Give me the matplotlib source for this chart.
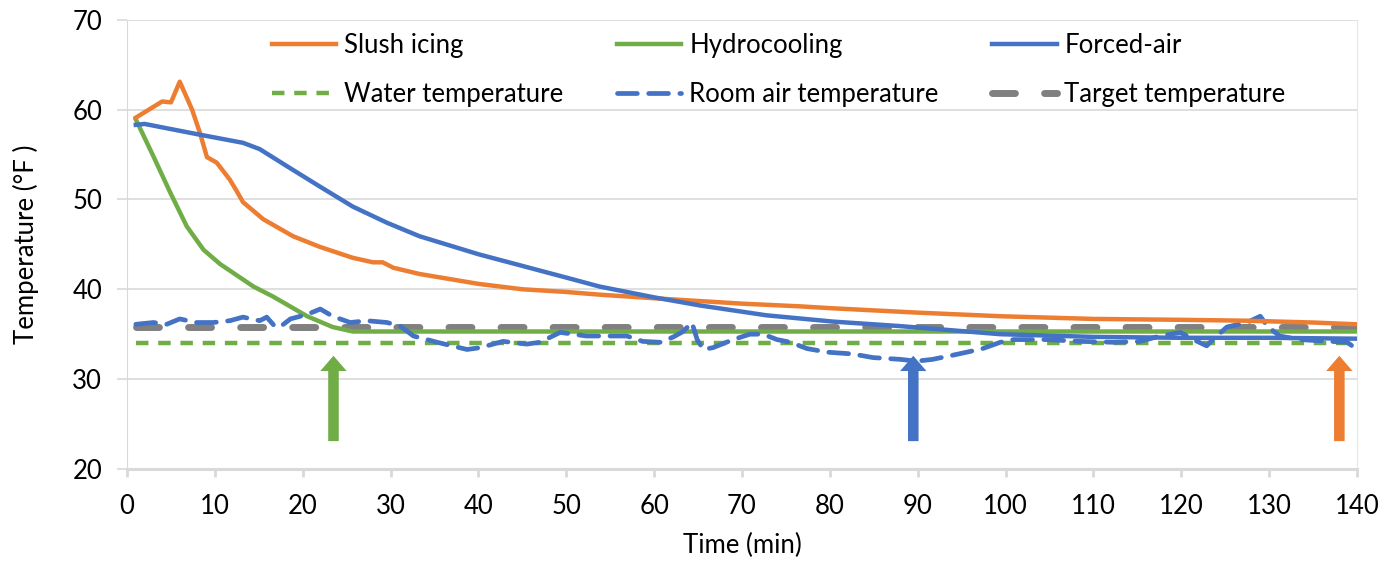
import numpy as np
import matplotlib.pyplot as plt

# Values
slush_t = [1, 2, 4, 5, 6, 7.4, 8.3, 9.1, 10.2, 11.7, 12.5, 13.2, 15.5, 18.9, 22, 25.7,
           28, 29.1, 30.3, 33.3, 40, 45, 50, 53.8, 60, 65, 70, 76.6, 80, 90, 99.4,
           110, 120, 127.5, 135, 140]
slush = [59.1, 59.7, 60.9, 60.8, 63.1, 60.0, 57.4, 54.7, 54.1, 52.2, 50.9, 49.7, 47.8,
         45.9, 44.7, 43.5, 43.0, 43.0, 42.4, 41.7, 40.6, 40.0, 39.7, 39.4, 39.0, 38.7,
         38.4, 38.1, 37.9, 37.4, 37.0, 36.7, 36.6, 36.5, 36.3, 36.1]

hydro_t = [1, 3, 4.9, 6.8, 8.7, 10.6, 14.4, 16.6, 20.5, 23.4, 25.7, 30, 60, 100, 140]
hydro = [58.9, 54.8, 50.8, 47.0, 44.4, 42.8, 40.3, 39.2, 37.0, 35.8, 35.3, 35.3,
         35.3, 35.3, 35.3]

forced_t = [1, 2, 8.3, 13.2, 15.1, 18.2, 22, 25.7, 29.6, 33.3, 40, 45, 50, 53.8, 60,
            65.2, 72.8, 80.4, 88, 95.6, 99.4, 110, 120, 130, 140]
forced = [58.3, 58.4, 57.2, 56.3, 55.6, 53.7, 51.4, 49.2, 47.4, 45.9, 43.9, 42.6, 41.3,
          40.3, 39.1, 38.2, 37.1, 36.4, 35.9, 35.3, 35.0, 34.7, 34.6, 34.6, 34.5]

room_t = [1, 3, 4.5, 6, 7.9, 9.8, 11.7, 13.2, 15.1, 15.9, 16.8, 17.4, 18.6, 20.5, 22,
          23.4, 25.4, 27.3, 29.6, 31.1, 32.6, 35.3, 38.7, 40.2, 42.8, 45.5, 47, 49.3,
          52.3, 54.2, 56.9, 58.7, 60.7, 62.2, 63.3, 64.3, 64.9, 65.6, 66.7, 69, 70.9,
          72.4, 74, 75.5, 77.4, 79.7, 82.6, 84.9, 88, 89.9, 91.7, 93.7, 95.6, 97.4,
          99.4, 100.9, 104.7, 108.5, 112.3, 115.3, 117.6, 119.9, 121.4, 122.9, 123.6,
          125.2, 127.5, 129, 129.8, 131.2, 133.5, 137, 138.9, 140]
room = [36.1, 36.3, 36.1, 36.7, 36.3, 36.3, 36.5, 36.9, 36.5, 36.9, 35.9, 35.8, 36.7,
        37.2, 37.8, 37.0, 36.3, 36.5, 36.3, 35.9, 34.8, 34.1, 33.3, 33.5, 34.2, 33.9,
        34.1, 35.2, 34.8, 34.8, 34.8, 34.2, 34.1, 34.7, 35.3, 36.3, 34.4, 33.3, 33.5,
        34.4, 35.0, 35.0, 34.4, 34.1, 33.4, 33.0, 32.8, 32.4, 32.2, 32.0, 32.2, 32.6,
        33.0, 33.4, 34.1, 34.4, 34.4, 34.2, 34.1, 34.2, 34.8, 35.2, 34.4, 33.7, 34.4,
        35.8, 36.3, 37.0, 35.9, 34.8, 34.4, 34.2, 34.1, 33.3]

water_t = [1, 140]
water = [34.0, 34.0]
target_t = [1, 140]
target = [35.8, 35.8]

# arrows marking when each method reaches target
arrow_t = [23.5, 89.5, 138]
arrow_colors = ['#70AD47', '#4472C4', '#ED7D31']

plt.rcParams['font.family'] = ['Lato', 'DejaVu Sans']
fs = 18.5

fig = plt.figure(figsize=(13.96, 5.63), dpi=100)
ax = fig.add_axes([0.091, 0.167, 0.881, 0.798])

l_slush, = ax.plot(slush_t, slush, color='#ED7D31', lw=3.2, label='Slush icing', zorder=5)
l_hydro, = ax.plot(hydro_t, hydro, color='#70AD47', lw=3.2, label='Hydrocooling', zorder=4)
l_forced, = ax.plot(forced_t, forced, color='#4472C4', lw=3.2, label='Forced-air', zorder=5)
l_water, = ax.plot(water_t, water, color='#70AD47', lw=3.2, ls=(0, (2.8, 2.2)),
                   label='Water temperature', zorder=3)
l_room, = ax.plot(room_t, room, color='#4472C4', lw=3.4, ls=(0, (4.2, 2.4)),
                  label='Room air temperature', zorder=4, dash_capstyle='round')
l_target, = ax.plot(target_t, target, color='#808080', lw=5, ls=(0, (3.3, 4.2)),
                    label='Target temperature', zorder=3, dash_capstyle='round')

for t, c in zip(arrow_t, arrow_colors):
    ax.annotate('', xy=(t, 32.6), xytext=(t, 23.1),
                arrowprops=dict(arrowstyle='simple,head_width=0.95,head_length=0.55,tail_width=0.38',
                                mutation_scale=20, color=c, lw=0, shrinkA=0, shrinkB=0))

ax.set_xlim(0, 140)
ax.set_ylim(20, 70)
ax.set_xticks(np.arange(0, 141, 10))
ax.set_yticks(np.arange(20, 71, 10))
ax.grid(axis='y', color='#D9D9D9', lw=1.2)
ax.set_axisbelow(True)
ax.spines['top'].set_visible(False)
ax.spines['left'].set_color('#D9D9D9')
ax.spines['right'].set_color('#E6E6E6')
ax.spines['bottom'].set_color('#D9D9D9')
ax.spines['bottom'].set_linewidth(2.2)
ax.tick_params(axis='x', colors='#D9D9D9', length=6, width=2, pad=12,
               labelcolor='black', labelsize=fs)
ax.tick_params(axis='y', colors='#D9D9D9', length=7, width=1.2, pad=11,
               labelcolor='black', labelsize=fs)

ax.set_xlabel('Time (min)', fontsize=fs, labelpad=10)
ax.set_ylabel('Temperature (°F )', fontsize=fs, labelpad=24)

# Excel-style legend: fill row by row
handles = [l_slush, l_water, l_hydro, l_room, l_forced, l_target]
leg = ax.legend(handles=handles, labels=[h.get_label() for h in handles],
                ncol=3, loc='upper center', bbox_to_anchor=(0.53, 1.0),
                fontsize=fs, frameon=False, handlelength=2.5, handletextpad=0.3,
                columnspacing=2.1, labelspacing=0.95, borderaxespad=0.1)
leg.set_zorder(10)

fig.savefig('out.png', dpi=100)
